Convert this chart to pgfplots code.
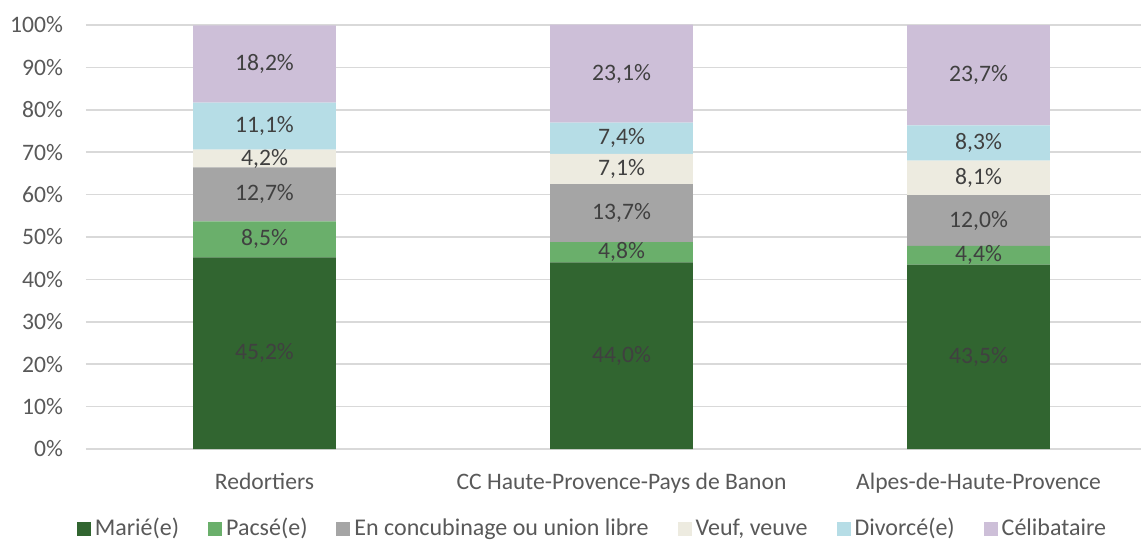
\documentclass[border=0pt]{standalone}
\usepackage{fontspec}
\setmainfont{Carlito}
\usepackage{pgfplots}
\pgfplotsset{compat=1.18}
\definecolor{cMarie}{HTML}{316530}
\definecolor{cPacse}{HTML}{6AAF6B}
\definecolor{cConcu}{HTML}{A5A5A5}
\definecolor{cVeuf}{HTML}{EDEBE0}
\definecolor{cDivorce}{HTML}{B6DDE6}
\definecolor{cCelib}{HTML}{CDBFD8}
\definecolor{gridgray}{HTML}{D9D9D9}
\definecolor{labgray}{HTML}{595959}
\definecolor{datagray}{HTML}{404040}
\begin{document}
\begin{tikzpicture}[font=\fontsize{11.8}{13.5}\selectfont]
\useasboundingbox (0,0) rectangle (570.5pt,271.5pt);
\begin{axis}[
    at={(43pt,47pt)}, anchor=south west,
    scale only axis, width=527.5pt, height=212pt,
    ybar stacked, bar width=0.4,
    xmin=-0.5, xmax=2.455, ymin=0, ymax=100,
    clip=false,
    xtick={0,1,2},
    xticklabels={Redortiers, CC Haute-Provence-Pays de Banon, Alpes-de-Haute-Provence},
    ytick={0,10,...,100},
    yticklabels={0\%,10\%,20\%,30\%,40\%,50\%,60\%,70\%,80\%,90\%,100\%},
    ymajorgrids,
    major grid style={draw=gridgray, line width=0.75pt},
    axis line style={draw=none},
    major tick length=0pt,
    tick label style={text=labgray},
    xticklabel style={yshift=-8.5pt},
    yticklabel style={xshift=-8pt},
    legend columns=6,
    legend style={at={(0.481,-0.188)}, anchor=center, draw=none, text=labgray,
        font=\fontsize{12}{14}\selectfont,
        /tikz/every even column/.append style={column sep=12.5pt}},
    legend image code/.code={\fill[#1] (0pt,-3.5pt) rectangle (7pt,3.5pt);},
    /pgf/number format/assume math mode=true,
    visualization depends on={rawy \as \rawy},
    nodes near coords={\pgfmathprintnumber[fixed,fixed zerofill,precision=1,use comma]{\rawy}\%},
    every node near coord/.append style={text=datagray, anchor=center},
]
\addplot[fill=cMarie, draw=none] coordinates {(0,45.2) (1,44.0) (2,43.5)};
\addplot[fill=cPacse, draw=none] coordinates {(0,8.5) (1,4.8) (2,4.4)};
\addplot[fill=cConcu, draw=none] coordinates {(0,12.7) (1,13.7) (2,12.0)};
\addplot[fill=cVeuf, draw=none] coordinates {(0,4.2) (1,7.1) (2,8.1)};
\addplot[fill=cDivorce, draw=none] coordinates {(0,11.1) (1,7.4) (2,8.3)};
\addplot[fill=cCelib, draw=none] coordinates {(0,18.2) (1,23.1) (2,23.7)};
\legend{Marié(e), Pacsé(e), En concubinage ou union libre, {Veuf, veuve}, Divorcé(e), Célibataire}
\end{axis}
\end{tikzpicture}
\end{document}
